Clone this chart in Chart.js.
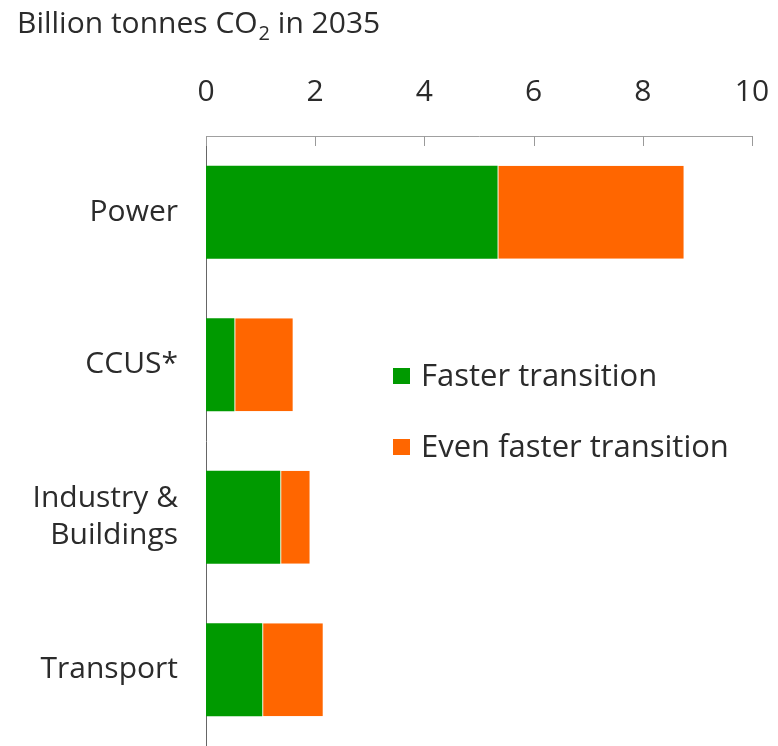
<!DOCTYPE html>
<html>
<head>
<meta charset="utf-8">
<script src="https://cdn.jsdelivr.net/npm/chart.js@4/dist/chart.umd.min.js"></script>
<style>
  html, body { margin: 0; padding: 0; background: #ffffff; }
  #wrap { width: 778px; height: 746px; }
</style>
</head>
<body>
<div id="wrap"><canvas id="c" width="778" height="746"></canvas></div>
<script>
// ---- data ----
const categories = ['Power', 'CCUS*', ['Industry &', 'Buildings'], 'Transport'];
const seriesNames = ['Faster transition', 'Even faster transition'];
const fasterTransition = [5.34, 0.52, 1.36, 1.03];
const evenFasterTransition = [3.41, 1.07, 0.54, 1.11];
const xTicks = [0, 2, 4, 6, 8, 10];
const titleParts = ['Billion tonnes CO', '2', ' in 2035'];

const FONT = "'Open Sans', 'Liberation Sans', Arial, sans-serif";
const TEXT = '#2b2b2b';
const GREEN = '#009a00';
const ORANGE = '#ff6600';

// title with subscript, drawn as text
const titlePlugin = {
  id: 'subTitle',
  afterDraw(chart) {
    const ctx = chart.ctx;
    ctx.save();
    ctx.fillStyle = TEXT;
    ctx.textBaseline = 'alphabetic';
    ctx.textAlign = 'left';
    let x = 17, y = 33;
    ctx.font = '30px ' + FONT;
    ctx.fillText(titleParts[0], x, y);
    x += ctx.measureText(titleParts[0]).width + 1;
    ctx.font = '20px ' + FONT;
    ctx.fillText(titleParts[1], x, y + 7);
    x += ctx.measureText(titleParts[1]).width;
    ctx.font = '30px ' + FONT;
    ctx.fillText(titleParts[2], x, y);
    ctx.restore();
  }
};

// inward tick marks below the top axis, placed through the scale
const tickPlugin = {
  id: 'innerTicks',
  afterDatasetsDraw(chart) {
    const sx = chart.scales.x;
    const ctx = chart.ctx;
    ctx.save();
    ctx.strokeStyle = '#9a9a9a';
    ctx.lineWidth = 1;
    xTicks.forEach(v => {
      const px = Math.round(sx.getPixelForValue(v)) + 0.5;
      ctx.beginPath();
      ctx.moveTo(px, sx.bottom);
      ctx.lineTo(px, sx.bottom + 10);
      ctx.stroke();
    });
    ctx.restore();
  }
};

// legend inside the plot area
const legendPlugin = {
  id: 'innerLegend',
  afterDraw(chart) {
    const ctx = chart.ctx;
    const area = chart.chartArea;
    ctx.save();
    ctx.font = '31px ' + FONT;
    ctx.textBaseline = 'middle';
    ctx.textAlign = 'left';
    chart.data.datasets.forEach((ds, i) => {
      const cy = area.top + 240 + i * 71;
      const bx = area.left + 187;
      ctx.fillStyle = ds.backgroundColor;
      ctx.fillRect(bx, cy - 8, 17, 16);
      ctx.fillStyle = TEXT;
      ctx.fillText(ds.label, bx + 28, cy + 1);
    });
    ctx.restore();
  }
};

new Chart(document.getElementById('c'), {
  type: 'bar',
  data: {
    labels: categories,
    datasets: [
      { label: seriesNames[0], data: fasterTransition, backgroundColor: GREEN,
        borderWidth: 0 },
      { label: seriesNames[1], data: evenFasterTransition, backgroundColor: ORANGE,
        borderColor: 'rgba(255,240,200,0.9)', borderWidth: { left: 1, right: 0, top: 0, bottom: 0 },
        borderSkipped: false }
    ]
  },
  options: {
    indexAxis: 'y',
    responsive: false,
    animation: false,
    devicePixelRatio: 1,
    layout: { padding: { left: 0, right: 26, top: 0, bottom: 0 } },
    datasets: { bar: { barPercentage: 0.61, categoryPercentage: 1.0 } },
    plugins: {
      legend: { display: false },
      title: { display: false },
      tooltip: { enabled: false }
    },
    scales: {
      x: {
        position: 'top',
        stacked: true,
        min: 0, max: 10,
        afterBuildTicks(scale) { scale.ticks = xTicks.map(v => ({ value: v })); },
        afterFit(scale) {
          scale.height = 136;
          scale.paddingLeft = 0; scale.paddingRight = 0;
          scale.paddingTop = 0; scale.paddingBottom = 0;
        },
        ticks: { font: { family: FONT, size: 30 }, color: TEXT, padding: 26, maxRotation: 0 },
        grid: { display: false, drawTicks: false },
        border: { display: true, color: '#a0a0a0', width: 1 }
      },
      y: {
        stacked: true,
        afterFit(scale) {
          scale.width = 206;
          scale.paddingLeft = 0; scale.paddingRight = 0;
          scale.paddingTop = 0; scale.paddingBottom = 0;
        },
        ticks: { font: { family: FONT, size: 30, lineHeight: 1.22 }, color: TEXT, padding: 28 },
        grid: { display: false, drawTicks: false },
        border: { display: true, color: '#666666', width: 1 }
      }
    }
  },
  plugins: [titlePlugin, tickPlugin, legendPlugin]
});
</script>
</body>
</html>
